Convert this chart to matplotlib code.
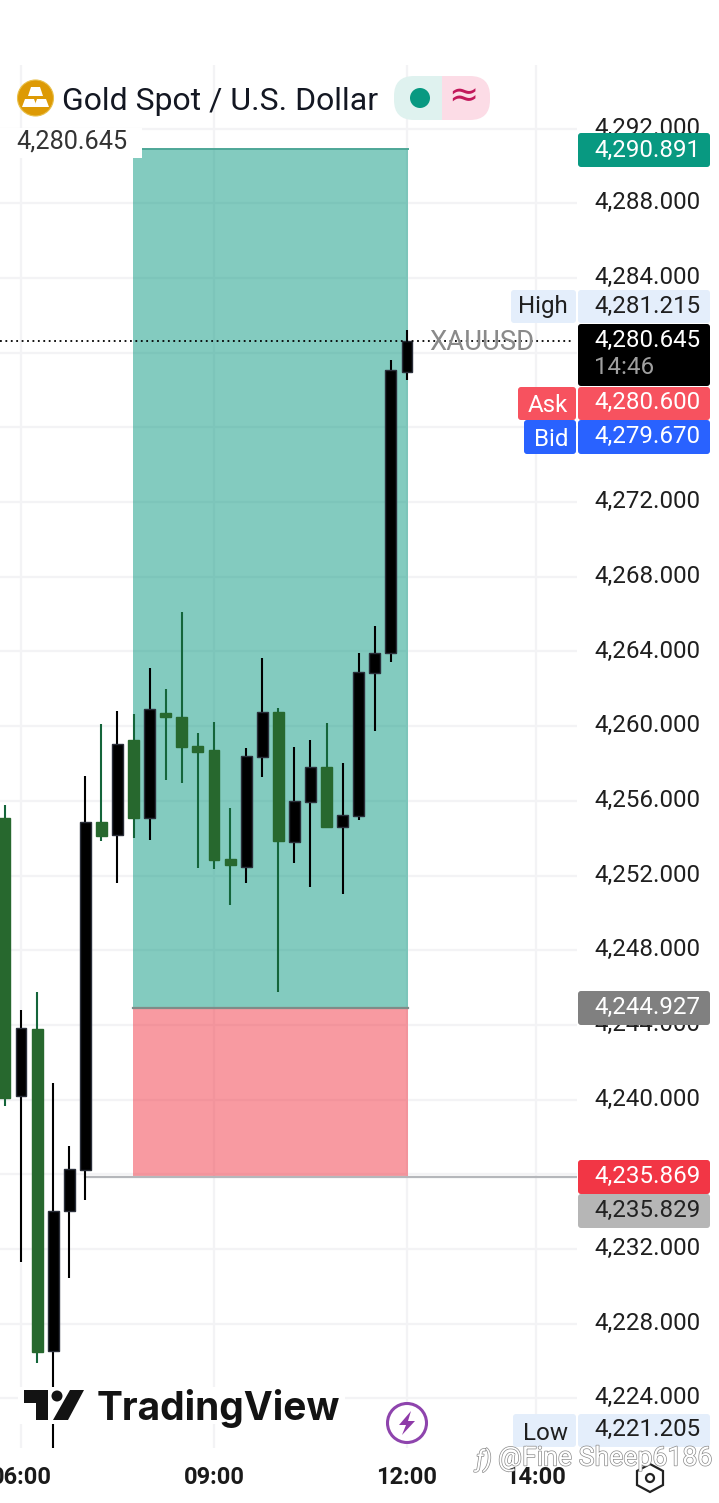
import matplotlib
matplotlib.use('Agg')
import matplotlib.pyplot as plt
import matplotlib.patheffects as pe
from matplotlib.patches import FancyBboxPatch, Circle, Polygon, Rectangle
from matplotlib.transforms import ScaledTranslation

plt.rcParams['font.family'] = ['Roboto', 'DejaVu Sans']

# 15 minute candles, x in hours of the day
hours = [5.75, 6.0, 6.25, 6.5, 6.75, 7.0, 7.25, 7.5, 7.75, 8.0, 8.25, 8.5, 8.75,
         9.0, 9.25, 9.5, 9.75, 10.0, 10.25, 10.5, 10.75, 11.0, 11.25, 11.5, 11.75, 12.0]
opens = [4255.09, 4240.20, 4243.79, 4226.54, 4234.04, 4236.23, 4254.87, 4254.18, 4259.27,
         4255.09, 4260.71, 4260.50, 4258.94, 4258.73, 4252.89, 4252.46, 4258.35, 4260.77,
         4253.80, 4255.94, 4257.82, 4254.61, 4255.19, 4262.85, 4263.92, 4278.98]
closes = [4240.09, 4243.84, 4226.49, 4234.04, 4236.29, 4254.87, 4254.12, 4259.05, 4255.09,
          4260.93, 4260.50, 4258.89, 4258.62, 4252.84, 4252.57, 4258.41, 4260.77, 4253.86,
          4256.00, 4257.82, 4254.61, 4255.25, 4262.91, 4263.92, 4279.08, 4280.645]
highs = [4255.78, 4244.80, 4245.77, 4240.89, 4237.52, 4257.34, 4260.12, 4260.82, 4260.66,
         4263.12, 4262.00, 4266.12, 4259.64, 4260.23, 4255.62, 4258.84, 4263.66, 4260.98,
         4258.89, 4259.27, 4260.18, 4258.03, 4263.92, 4265.37, 4279.62, 4281.215]
lows = [4239.66, 4231.31, 4225.90, 4221.205, 4230.45, 4234.63, 4253.86, 4251.61, 4254.02,
        4253.91, 4257.12, 4256.96, 4252.41, 4252.36, 4250.43, 4251.61, 4257.28, 4245.77,
        4252.68, 4251.39, 4254.61, 4251.02, 4254.98, 4259.75, 4263.44, 4278.55]

price_ticks = [4224, 4228, 4232, 4236, 4240, 4244, 4248, 4252, 4256, 4260, 4264, 4268,
               4272, 4276, 4280, 4284, 4288, 4292]
hidden_ticks = [4236, 4276, 4280]
time_ticks = [6, 9, 12, 14]
time_labels = ['06:00', '09:00', '12:00', '14:00']

target, entry, stop = 4290.891, 4244.927, 4235.869
pos_start, pos_end = 7.74, 12.02
last_price = 4280.645
stop_line = 4235.829
stop_line_start = 7.0

W, H = 719, 1503
fig = plt.figure(figsize=(W / 100, H / 100), dpi=100, facecolor='white')

# main chart area
ax = fig.add_axes([0, 1 - 1448 / H, 577 / W, (1448 - 65) / H])
ax.set_xlim(5.6736, 14.643)
ax.set_ylim(4221.34, 4295.41)
for s in ax.spines.values():
    s.set_visible(False)
ax.set_axisbelow(True)
ax.grid(True, color='#f3f3f5', lw=1.6)

ax.yaxis.tick_right()
ax.set_yticks(price_ticks)
ax.set_yticklabels(['' if p in hidden_ticks else f'{p:,.3f}' for p in price_ticks],
                   fontsize=17.4, color='#1f1f1f')
ax.tick_params(axis='y', length=0, pad=12.2)
up = ScaledTranslation(0, 3 / 100, fig.dpi_scale_trans)
for lab in ax.get_yticklabels():
    lab.set_transform(lab.get_transform() + up)
ax.set_xticks(time_ticks)
ax.set_xticklabels(time_labels, fontsize=17, fontweight='bold', color='#1a1a1a')
ax.tick_params(axis='x', length=0, pad=13.2)

# long position box
ax.fill_between([pos_start, pos_end], entry, target, color='#089981', alpha=0.5, lw=0, zorder=2)
ax.fill_between([pos_start, pos_end], stop, entry, color='#F23645', alpha=0.5, lw=0, zorder=2)
ax.plot([pos_start, pos_end], [target, target], color='#4ea797', lw=1.4, zorder=3)
ax.plot([pos_start, pos_end], [entry, entry], color='#7f8c88', lw=1.6, zorder=3)
ax.plot([stop_line_start, 14.643], [stop_line, stop_line], color='#b5b7bb', lw=1.6, zorder=3)

# candles
for t, o, c, hi, lo in zip(hours, opens, closes, highs, lows):
    rising = c >= o
    col = '#000000' if rising else '#27682e'
    edge = '#2a2e39' if rising else '#27682e'
    ax.vlines(t, lo, hi, color='#000000' if rising else '#14653a', lw=1.5, zorder=4)
    ax.bar(t, abs(c - o), bottom=min(o, c), width=0.17, color=col, edgecolor=edge,
           lw=1.0, zorder=5)

ax.plot([5.6736, 14.55], [last_price, last_price], color='black', lw=1.3, ls=(0, (1, 2)), zorder=6)

# everything below is screen furniture, placed in pixels
ov = fig.add_axes([0, 0, 1, 1], facecolor='none')
ov.set_xlim(0, W)
ov.set_ylim(H, 0)
ov.axis('off')


def badge(x0, y0, x1, y1, color, z=10, r=3):
    ov.add_patch(FancyBboxPatch((x0 + r, y0 + r), x1 - x0 - 2 * r, y1 - y0 - 2 * r,
                                boxstyle=f'round,pad={r},rounding_size={r}', fc=color, ec='none', zorder=z))


def label(x, y, s, color='#1f1f1f', size=17.4, ha='left', **kw):
    ov.text(x, y + 1, s, color=color, fontsize=size, ha=ha, va='center', zorder=12, **kw)


# header
ov.add_patch(Rectangle((0, 128), 142, 21, fc='white', ec='none', zorder=7))
ov.add_patch(Rectangle((0, 149), 142, 9, fc='white', ec='none', zorder=7))
label(16, 140, '4,280.645', color='#333333', size=18.2)
ov.add_patch(Circle((35.5, 98), 18, fc='#DD9A05', ec='#e9c04a', lw=0.8, zorder=10))
ov.add_patch(Polygon([(31, 87), (40, 87), (43, 96), (28, 96)], fc='white', ec='none', zorder=11))
ov.add_patch(Polygon([(25, 99), (34, 99), (37, 107), (22, 107)], fc='white', ec='none', zorder=11))
ov.add_patch(Polygon([(37, 99), (46, 99), (49, 107), (34, 107)], fc='white', ec='none', zorder=11))
label(62, 100, 'Gold Spot / U.S. Dollar', color='#131722', size=23)
badge(394, 76, 470, 120, '#DFF2EF', z=9, r=20)
badge(442, 76, 490, 120, '#FCDCE6', z=9, r=20)
ov.add_patch(Rectangle((442, 76), 20, 44, fc='#FCDCE6', ec='none', zorder=9))
ov.add_patch(Circle((420, 98), 10, fc='#089981', ec='none', zorder=10))
ov.text(463, 97, '≈', color='#C2185B', fontsize=26, ha='center', va='center', zorder=11,
        family=['DejaVu Sans'])

# right hand price badges
pale = '#E4EEFB'
badge(578, 133, 710, 167, '#089981')
label(594, 149, '4,290.891', color='white')
badge(511, 290, 576, 323, pale)
badge(578, 290, 710, 323, pale)
label(518, 306, 'High', color='#1f1f1f')
label(594, 305, '4,281.215')
badge(578, 324, 710, 386, 'black')
label(594, 339, '4,280.645', color='white')
label(594, 367, '14:46', color='#a0a0a0')
label(429, 341, 'XAUUSD', color='#8a8a8a', size=19.8)
badge(518, 387, 576, 420, '#F7525F')
badge(578, 387, 710, 420, '#F7525F')
label(528, 405, 'Ask', color='white')
label(594, 401, '4,280.600', color='white')
badge(524, 420, 576, 454, '#2962FF')
badge(578, 420, 710, 454, '#2962FF')
label(534, 439, 'Bid', color='white')
label(594, 435, '4,279.670', color='white')
badge(578, 991, 710, 1025, '#808080')
label(594, 1006, '4,244.927', color='white')
badge(578, 1160, 710, 1194, '#F23645')
label(594, 1175, '4,235.869', color='white')
badge(578, 1194, 710, 1228, '#B6B6B6')
label(594, 1209, '4,235.829', color='#222222')
badge(513, 1414, 576, 1447, pale)
badge(578, 1414, 710, 1447, pale)
label(523, 1432, 'Low')
label(594, 1428, '4,221.205')

# tradingview logo
ov.add_patch(Rectangle((18, 1387), 327, 37, fc='white', ec='none', zorder=8))
ov.add_patch(Polygon([(24, 1390), (48, 1390), (48, 1420), (36, 1420), (36, 1403), (24, 1403)],
                     fc='#131313', ec='none', zorder=10))
ov.add_patch(Circle((57, 1396), 5.5, fc='#131313', ec='none', zorder=10))
ov.add_patch(Polygon([(70, 1390), (84, 1390), (68, 1420), (53, 1420)], fc='#131313', ec='none', zorder=10))
label(97, 1407, 'TradingView', color='#131313', size=28, fontweight='bold', family=['Inter', 'DejaVu Sans'])

# bolt button
ov.add_patch(Circle((407, 1423), 19.5, fc='white', ec='#8E44AD', lw=2.2, zorder=10))
ov.add_patch(Polygon([(411, 1411), (399, 1425), (406, 1425), (402, 1435), (415, 1421), (408, 1421)],
                     fc='#8E3AA8', ec='none', zorder=11))

# settings hexagon
ov.add_patch(Polygon([(650, 1464), (663, 1471), (663, 1485), (650, 1492), (637, 1485), (637, 1471)],
                     fc='white', ec='#222222', lw=1.6, zorder=10))
ov.add_patch(Circle((650, 1478), 4, fc='white', ec='#222222', lw=1.6, zorder=11))

# site watermark
ov.text(498, 1458, '@Fine Sheep6186', color='white', fontsize=19.2, ha='left', va='center', zorder=14,
        path_effects=[pe.withStroke(linewidth=1.0, foreground='#8a8a8a')])
ov.text(484, 1460, 'ƒ)', color='white', fontsize=17, ha='center', va='center', zorder=14, style='italic',
        path_effects=[pe.withStroke(linewidth=1.0, foreground='#8a8a8a')])

fig.savefig('out.png', dpi=100)
